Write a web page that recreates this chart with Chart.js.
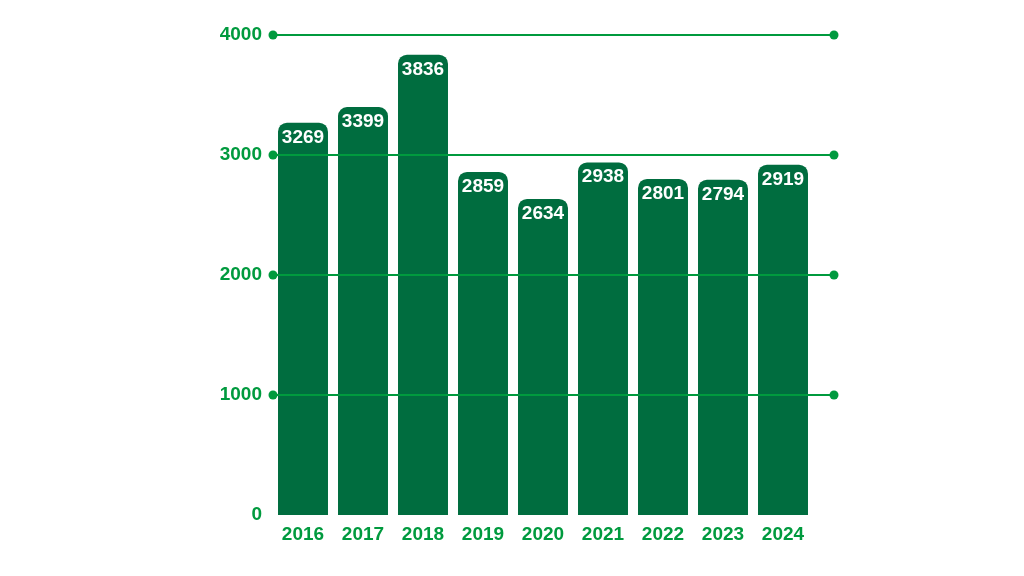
<!DOCTYPE html>
<html>
<head>
<meta charset="utf-8">
<script src="https://cdn.jsdelivr.net/npm/chart.js@4/dist/chart.umd.min.js"></script>
<style>
  html, body { margin: 0; padding: 0; background: #fff; }
  #wrap { width: 1024px; height: 576px; }
</style>
</head>
<body>
<div id="wrap"><canvas id="chart" width="1024" height="576"></canvas></div>
<script>
const years = ['2016', '2017', '2018', '2019', '2020', '2021', '2022', '2023', '2024'];
const values = [3269, 3399, 3836, 2859, 2634, 2938, 2801, 2794, 2919];
const yTicks = [0, 1000, 2000, 3000, 4000];

const barColor = '#006d3f';
const lineColor = '#009a3e';
const font = "'Liberation Sans', Arial, sans-serif";

// grid lines with dots, drawn over the bars
const gridDots = {
    id: 'gridDots',
    afterDatasetsDraw(chart) {
        const { ctx, scales: { x, y } } = chart;
        const left = x.left;
        const right = x.right + 21;
        ctx.save();
        ctx.strokeStyle = lineColor;
        ctx.fillStyle = lineColor;
        ctx.lineWidth = 2;
        yTicks.forEach(t => {
            if ( t == 0 ) return;
            const py = Math.round(y.getPixelForValue(t));
            ctx.beginPath();
            ctx.moveTo(left, py);
            ctx.lineTo(right, py);
            ctx.stroke();
            [left, right].forEach(px => {
                ctx.beginPath();
                ctx.arc(px, py, 4.5, 0, Math.PI * 2);
                ctx.fill();
            });
        });
        ctx.restore();
    }
};

// value labels inside the top of each bar
const valueLabels = {
    id: 'valueLabels',
    afterDraw(chart) {
        const { ctx } = chart;
        const meta = chart.getDatasetMeta(0);
        ctx.save();
        ctx.fillStyle = '#ffffff';
        ctx.font = 'bold 19px ' + font;
        ctx.textAlign = 'center';
        ctx.textBaseline = 'alphabetic';
        meta.data.forEach((bar, i) => {
            ctx.fillText(values[i], bar.x, bar.y + 20);
        });
        ctx.restore();
    }
};

new Chart(document.getElementById('chart'), {
    type: 'bar',
    data: {
        labels: years,
        datasets: [{
            data: values,
            backgroundColor: barColor,
            borderRadius: { topLeft: 9, topRight: 9, bottomLeft: 0, bottomRight: 0 },
            borderSkipped: false,
            categoryPercentage: 1,
            barPercentage: 0.833,
        }]
    },
    options: {
        responsive: false,
        animation: false,
        layout: { padding: { left: 0, right: 211, top: 35, bottom: 0 } },
        plugins: { legend: { display: false }, tooltip: { enabled: false } },
        scales: {
            x: {
                grid: { display: false, drawTicks: false },
                border: { display: false },
                ticks: {
                    color: lineColor,
                    font: { family: font, size: 19, weight: 'bold' },
                    padding: 8,
                },
                afterFit(scale) { scale.height = 61; }
            },
            y: {
                min: 0,
                max: 4000,
                grid: { display: false, drawTicks: false },
                border: { display: false },
                afterBuildTicks(scale) { scale.ticks = yTicks.map(v => ({ value: v })); },
                ticks: {
                    color: lineColor,
                    font: { family: font, size: 19, weight: 'bold' },
                    padding: 11,
                    callback: v => String(v),
                },
                afterFit(scale) { scale.width = 273; }
            }
        }
    },
    plugins: [gridDots, valueLabels]
});
</script>
</body>
</html>
